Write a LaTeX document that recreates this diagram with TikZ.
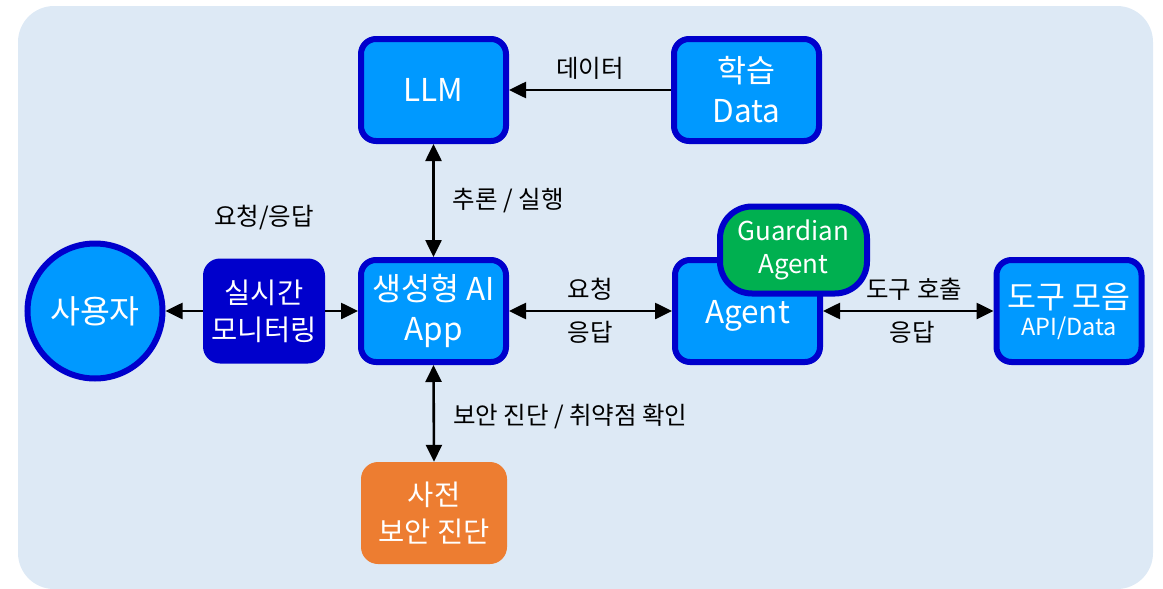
\documentclass[tikz,border=0pt]{standalone}
\usepackage{fontspec}
\setmainfont{Noto Sans CJK KR}
\usetikzlibrary{arrows.meta}
\definecolor{bgc}{HTML}{DDE9F5}
\definecolor{boxfill}{HTML}{0099FF}
\definecolor{boxline}{HTML}{0000CC}
\definecolor{grn}{HTML}{00B050}
\definecolor{org}{HTML}{ED7D31}
\tikzset{
  bluebox/.style={draw=boxline, line width=6pt, fill=boxfill, rounded corners=15pt,
    inner sep=0pt, minimum width=145pt, minimum height=102pt, text=white,
    align=center, font=\fontsize{31.5}{40}\selectfont},
  flatbox/.style={rounded corners=17pt, inner sep=0pt, text=white, align=center,
    font=\fontsize{28.5}{37}\selectfont},
  lbl/.style={text=black, font=\fontsize{24.5}{28}\selectfont, inner sep=0pt},
  conn/.style={line width=2.6pt, -{Triangle[length=17pt,width=16pt]}},
  dconn/.style={line width=2.6pt, {Triangle[length=17pt,width=16pt]}-{Triangle[length=17pt,width=16pt]}},
}
\begin{document}
\begin{tikzpicture}[x=1pt,y=-1pt]
\useasboundingbox (0,0) rectangle (1163,589);
\fill[bgc, rounded corners=36pt] (18,6) rectangle (1153,589);

\node[bluebox] (llm) at (433.5,90) {LLM};
\node[bluebox] (data) at (746.5,90) {학습\\Data};
\node[bluebox] (app) at (433.5,311) {생성형 AI\\App};
\node[bluebox] (agent) at (747.5,311) {};
\node[text=white, font=\fontsize{31.5}{40}\selectfont, inner sep=0pt] (agenttxt) at (747.5,316) {Agent};
\node[bluebox] (tools) at (1069,311) {\raisebox{-6pt}{도구 모음}\\[-7pt]{\fontsize{23.5}{26}\selectfont API/Data}};
\node[draw=boxline, line width=6pt, fill=grn, rounded corners=32pt, inner sep=0pt,
  minimum width=147pt, minimum height=87pt, text=white, align=center,
  font=\fontsize{26}{33}\selectfont] (guard) at (793.5,250) {Guardian\\Agent};
\node[circle, draw=boxline, line width=6pt, fill=boxfill, inner sep=0pt,
  minimum size=135pt, text=white, font=\fontsize{32.5}{38}\selectfont] (user) at (95,311) {사용자};
\node[flatbox, fill=boxline, minimum width=122pt, minimum height=105pt] (mon) at (264,311) {실시간\\모니터링};
\node[flatbox, fill=org, minimum width=146pt, minimum height=102pt] (pre) at (434,513) {사전\\보안 진단};

\draw[conn] (data.west) -- (llm.east) node[lbl, midway, above=9pt] {데이터};
\draw[dconn] (app.north) -- (llm.south) node[lbl, midway, right=18pt] {추론 / 실행};
\draw[conn] (mon.west) -- (user.east);
\draw[conn] (mon.east) -- (app.west);
\node[lbl] (req) at (264,218) {요청/응답};
\draw[dconn] (app.east) -- (agent.west)
  node[lbl, midway, above=9pt] {요청}
  node[lbl, midway, below=9pt] {응답};
\draw[dconn] (agent.east |- tools.west) -- (tools.west)
  node[lbl, midway, above=9pt, xshift=6pt] {도구 호출}
  node[lbl, midway, below=9pt, xshift=4pt] {응답};
\draw[dconn] (app.south) -- (pre.north) node[lbl, midway, right=18pt, yshift=-3pt] {보안 진단 / 취약점 확인};
\end{tikzpicture}
\end{document}
